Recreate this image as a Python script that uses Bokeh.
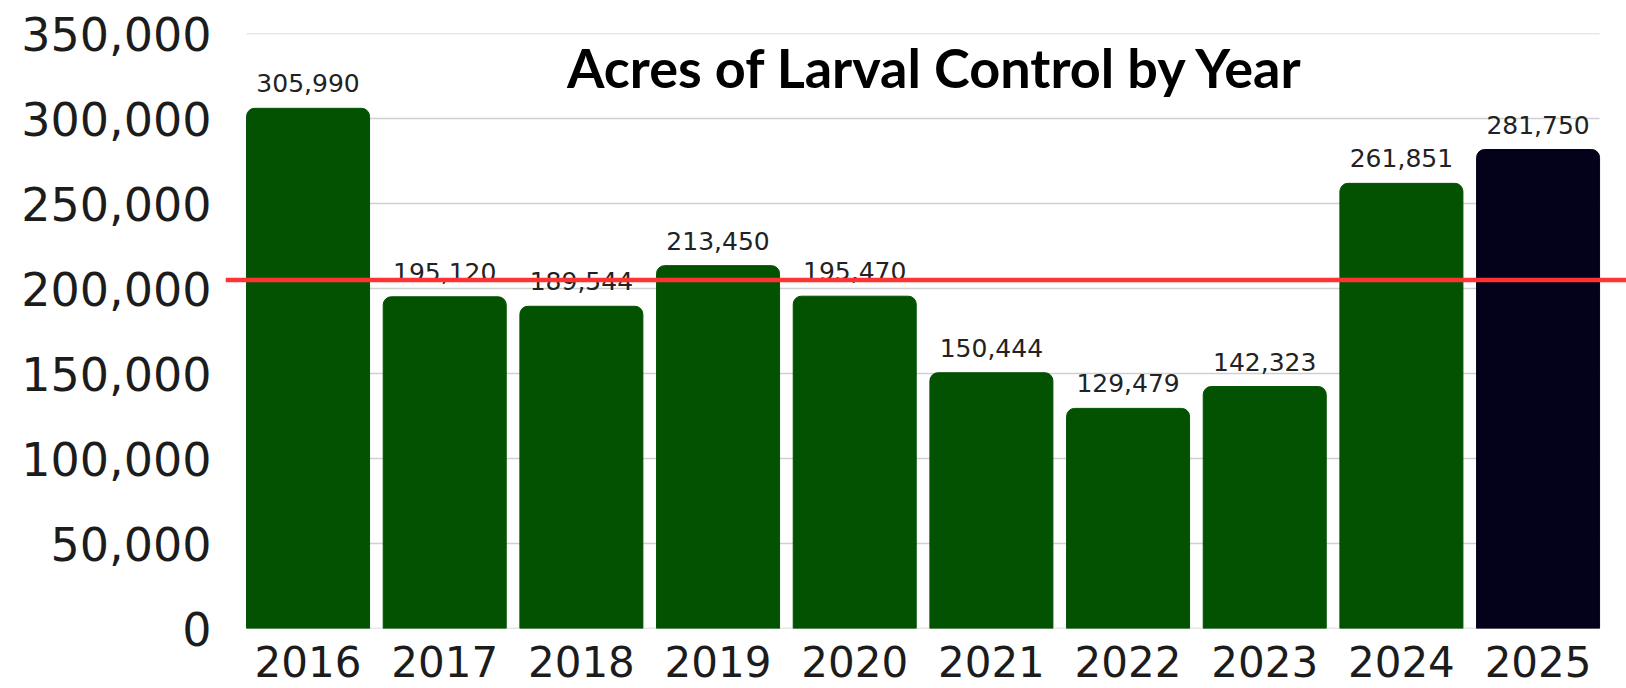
from bokeh.plotting import figure
from bokeh.models import Range1d, FixedTicker, NumeralTickFormatter, Span, Label, ColumnDataSource
from bokeh.embed import file_html
from bokeh.resources import INLINE

# ---- data ----
years = ["2016", "2017", "2018", "2019", "2020", "2021", "2022", "2023", "2024", "2025"]
acres = [305990, 195120, 189544, 213450, 195470, 150444, 129479, 142323, 261851, 281750]
y_ticks = [0, 50000, 100000, 150000, 200000, 250000, 300000, 350000]
reference_line = 205000
title_text = "Acres of Larval Control by Year"

# ---- style ----
GREEN = "#025202"
NAVY = "#03021a"
GRID = "#d0d0d0"
RED = "#ff3333"
TEXT = "#1c1c1c"
BAR_W = 0.9
FONT = "DejaVu Sans"

xs = list(range(len(years)))
colors = [NAVY if y == "2025" else GREEN for y in years]
labels = [f"{v:,}" for v in acres]
src = ColumnDataSource(dict(x=xs, top=acres, color=colors, label=labels))

p = figure(width=1626, height=688, output_backend="svg", toolbar_location=None,
           x_range=Range1d(-0.604, 9.647), y_range=Range1d(0, 350000),
           min_border_left=225, min_border_right=0, min_border_top=33, min_border_bottom=60)
p.outline_line_color = None
p.background_fill_color = "white"
p.border_fill_color = "white"
p.xgrid.visible = False
p.ygrid.visible = False

# gridlines spanning bar extent
n = len(years)
p.segment(x0=[-BAR_W / 2] * len(y_ticks), x1=[n - 1 + BAR_W / 2] * len(y_ticks),
          y0=y_ticks, y1=y_ticks, line_color=GRID, line_width=1.6)

p.vbar(x="x", top="top", width=BAR_W, bottom=0, color="color", source=src,
       border_radius=(8, 8, 0, 0))

p.text(x="x", y="top", text="label", source=src, y_offset=-25,
       text_align="center", text_baseline="alphabetic",
       text_font={"value": FONT}, text_font_size="25px", text_color="#222222")

p.add_layout(Span(location=reference_line, dimension="width", line_color=RED, line_width=4.5))

p.add_layout(Label(x=4.595, y=330000, text=title_text, text_align="center",
                   text_baseline="alphabetic", text_font="Lato", text_font_style="bold",
                   text_font_size="54px", text_color="black"))

# axes
p.yaxis.ticker = FixedTicker(ticks=y_ticks)
p.yaxis.formatter = NumeralTickFormatter(format="0,0")
p.yaxis.axis_line_color = None
p.yaxis.major_tick_line_color = None
p.yaxis.minor_tick_line_color = None
p.yaxis.major_label_text_font = FONT
p.yaxis.major_label_text_font_size = "46px"
p.yaxis.major_label_text_color = TEXT
p.yaxis.major_label_standoff = 8

p.xaxis.ticker = FixedTicker(ticks=xs)
p.xaxis.major_label_overrides = {i: y for i, y in zip(xs, years)}
p.xaxis.axis_line_color = None
p.xaxis.major_tick_line_color = None
p.xaxis.minor_tick_line_color = None
p.xaxis.major_label_text_font = FONT
p.xaxis.major_label_text_font_size = "42px"
p.xaxis.major_label_text_color = TEXT
p.xaxis.major_label_standoff = 11

open("out.html", "w").write(file_html(p, INLINE))
